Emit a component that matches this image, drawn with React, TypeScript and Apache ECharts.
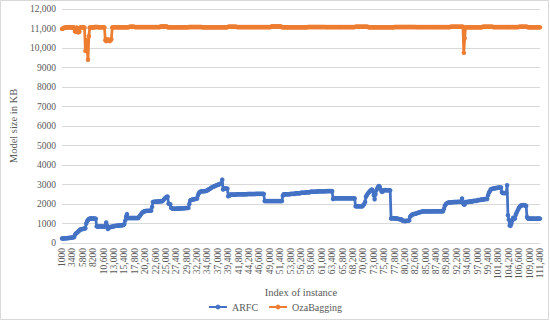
import React, { useEffect, useRef } from "react";
import * as echarts from "echarts";

// X categories: instance index from 1000 to 111,400 in steps of 200
const xStart = 1000;
const xStep = 200;
const xCount = 553;

const yTicks = [0, 1000, 2000, 3000, 4000, 5000, 6000, 7000, 8000, 9000, 10000, 11000, 12000];

type Run = number | [number, number];

// ARFC model size (KB), entries: value or [value, repeat]
const arfcRuns: Run[] = [
  230, 230, 235, 240, 240, 245, 250, 255, 260, 265, 270, 275, 280, 290, 300,
  420, 480, 520, 560, 600, 640,
  690, 700, 710, 720, 730, 740, 760,
  1000, 1120, 1180,
  1230, 1250, 1260, 1260, 1260, 1260, 1250, 1250, 1240,
  850, 840, 840, 850, 850, 850, 850, 840, 840, 840, 850,
  1050, 900, 720,
  780, 800, 820, 830, 840, 850, 860, 870, 880, 880, 890, 890, 900, 900, 910, 910, 920, 920,
  980, 1150, 1350, 1480,
  [1280, 13],
  1340, 1400, 1460, 1520, 1570, 1600,
  1620, 1640, 1640, 1650, 1650, 1650, 1650, 1660, 1660,
  1850,
  2100, 2110, 2120, 2120, 2120, 2130, 2130, 2130, 2140, 2140, 2140, 2150,
  2200, 2250, 2300, 2340, 2370, 2380,
  2020, 2000, 1990,
  1800, 1780, [1760, 5], [1770, 5], [1780, 4], [1790, 3], 1800, 1800,
  2000,
  2180, 2200, 2220, 2230, 2240, 2250, 2260, 2270, 2280,
  2450, 2550, 2600,
  2640, 2650, 2650, 2650, 2660, 2660, 2670, 2680, 2700,
  2740, 2760, 2790, 2820, 2850, 2870, 2890, 2910, 2930, 2950, 2970, 2990, 3000, 3020, 3040, 3050,
  3250,
  2740,
  2790, 2800, 2800, 2790, 2790,
  2400, 2420,
  [2480, 8], [2500, 12], [2510, 10], [2520, 10],
  [2150, 21],
  2420,
  [2500, 8], [2520, 6], [2550, 6], [2580, 6], [2600, 5],
  [2630, 8], [2650, 10], [2660, 8],
  2260,
  [2290, 25],
  [1880, 9],
  1950, 2000, 2100,
  2370, 2450, 2520, 2580, 2630, 2680, 2720, 2740,
  2650, 2450,
  2240,
  2500, 2700,
  2800, 2880, 2920, 2880,
  2750, 2640, 2620, 2700,
  2700, 2720, 2700, 2700, 2710, 2700, 2700, 2700,
  1250, 1280, 1270, 1270, 1260, 1270, 1260, 1250, 1240, 1230, 1220, 1220, 1210,
  1150, 1140, 1130, 1130, 1130, 1140, 1140, 1150, 1160,
  1350, 1400, 1450, 1470, 1480, 1490, 1500, 1510,
  1530, 1550, 1560, 1580, 1590, 1600, 1610,
  [1620, 12], [1630, 12],
  1750, 1900, 1980, 2020, 2050,
  2070, 2080, 2080, 2090, 2090, 2090, 2100, 2100, 2100, 2100, 2100, 2110, 2110, 2110, 2110, 2120,
  2280,
  2050, 1970, 1970,
  [2100, 4], [2130, 5], [2160, 5], [2200, 4], [2230, 4], [2260, 4],
  2450, 2580, 2650,
  2740, 2760, 2780, 2800, 2800, 2810, 2820, 2820, 2830, 2840, 2840, 2850, 2850,
  2600, [2560, 5],
  2960,
  1420, 1200, 900, 880, 1000, 1150, 1300, 1250, 1250,
  1450, 1550, 1650, 1750, 1820, 1880, 1920,
  1930, 1940, 1950, 1940, 1920, 1900,
  1330,
  1250, 1250, 1260, 1250, 1240, 1250, 1250, 1250, 1240, 1240, 1250, 1250, 1260, 1250, 1250,
];

// OzaBagging model size (KB)
const ozaRuns: Run[] = [
  10980, 11000, 11020,
  11050, 11060, 11040, 11060, 11050, 11060, 11070, 11050, 11060, 11040, 11060, 11050,
  10850, 10830, 11050, 10820, 10800, 10830, 11050,
  11060, 11050, 11070, 11060, 11040,
  9850, 10400, 9900, 9400, 10600,
  [11050, 6], [11080, 4], [11060, 8],
  10400, 10350, 10450, 10380, 10420, 10350, 10400, 10450,
  [11060, 20], [11090, 6], [11070, 30], [11100, 8], [11060, 25], [11080, 15], [11060, 30],
  [11090, 10], [11070, 40], [11100, 12], [11060, 30], [11080, 20], [11070, 35], [11090, 15],
  [11060, 30], [11080, 25], [11070, 40], [11090, 15],
  9750,
  10500,
  [11060, 20], [11090, 12], [11070, 30], [11090, 10], [11060, 15],
];

function expand(runs: Run[]): number[] {
  const out: number[] = [];
  for (const r of runs) {
    if (Array.isArray(r)) {
      for (let i = 0; i < r[1]; i++) out.push(r[0]);
    } else out.push(r);
  }
  return out;
}

const fmt = (v: number | string) => {
  const n = Number(v);
  return n >= 10000 ? n.toLocaleString("en-US") : String(n);
};

const FONT = "Liberation Serif";
const TXT = "#595959";

export default function App() {
  const ref = useRef<HTMLDivElement>(null);
  useEffect(() => {
    if (!ref.current) return;
    const chart = echarts.init(ref.current, undefined, { renderer: "svg" });
    const categories: string[] = [];
    for (let i = 0; i < xCount; i++) categories.push(String(xStart + i * xStep));
    const arfc = expand(arfcRuns);
    const oza = expand(ozaRuns);
    chart.setOption({
      animation: false,
      backgroundColor: "#ffffff",
      textStyle: { fontFamily: FONT },
      graphic: [
        {
          type: "rect",
          shape: { x: 0.5, y: 0.5, width: 548, height: 319 },
          style: { fill: "none", stroke: "#d9d9d9", lineWidth: 1 },
          silent: true,
        },
      ],
      grid: { left: 55, right: 10, top: 9, bottom: 78 },
      legend: {
        bottom: 4,
        left: "center",
        itemWidth: 18,
        itemHeight: 6,
        itemGap: 10,
        textStyle: { color: TXT, fontSize: 10, fontFamily: FONT },
        data: ["ARFC", "OzaBagging"],
      },
      xAxis: {
        type: "category",
        data: categories,
        boundaryGap: false,
        name: "Index of instance",
        nameLocation: "middle",
        nameGap: 44,
        nameTextStyle: { color: TXT, fontSize: 10.5, fontFamily: FONT },
        axisLine: { show: true, lineStyle: { color: "#d9d9d9" } },
        axisTick: { show: false },
        axisLabel: {
          interval: 11,
          rotate: 90,
          margin: 5,
          color: TXT,
          fontSize: 9.5,
          fontFamily: FONT,
          formatter: fmt,
        },
        splitLine: { show: false },
      },
      yAxis: {
        type: "value",
        min: yTicks[0],
        max: yTicks[yTicks.length - 1],
        interval: 1000,
        name: "Model size in KB",
        nameLocation: "middle",
        nameGap: 40,
        nameTextStyle: { color: TXT, fontSize: 10.5, fontFamily: FONT },
        axisLine: { show: false },
        axisTick: { show: false },
        axisLabel: { color: TXT, fontSize: 9.5, fontFamily: FONT, margin: 6, formatter: fmt },
        splitLine: { lineStyle: { color: "#d9d9d9", width: 1 } },
      },
      series: [
        {
          name: "ARFC",
          type: "line",
          data: arfc,
          symbol: "circle",
          symbolSize: 4.5,
          showAllSymbol: true,
          itemStyle: { color: "#4472C4" },
          lineStyle: { color: "#4472C4", width: 2.75 },
        },
        {
          name: "OzaBagging",
          type: "line",
          data: oza,
          symbol: "circle",
          symbolSize: 4.5,
          showAllSymbol: true,
          itemStyle: { color: "#ED7D31" },
          lineStyle: { color: "#ED7D31", width: 2.75 },
        },
      ],
    });
    return () => chart.dispose();
  }, []);
  return (
    <div
      ref={ref}
      style={{ position: "fixed", left: 0, top: 0, width: 550, height: 321 }}
    />
  );
}
